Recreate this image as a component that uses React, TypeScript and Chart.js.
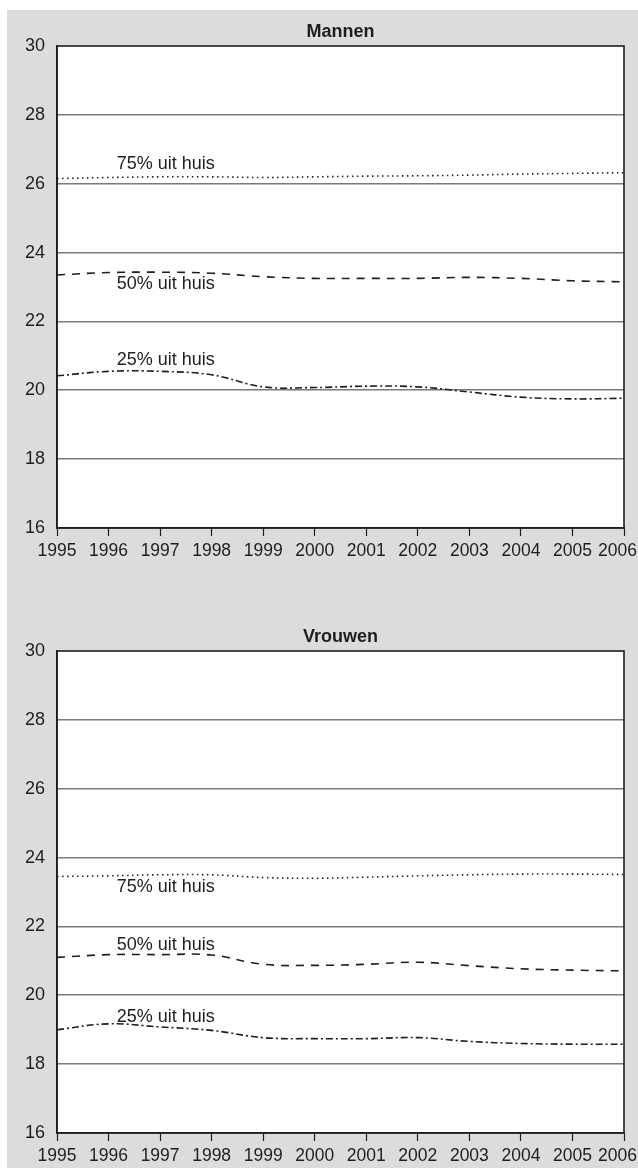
import React, { useEffect, useRef } from "react";
import { Chart, registerables } from "chart.js";

Chart.register(...registerables);

const years = ["1995", "1996", "1997", "1998", "1999", "2000", "2001", "2002", "2003", "2004", "2005", "2006"];

const mannen75 = [26.15, 26.18, 26.2, 26.2, 26.18, 26.2, 26.22, 26.23, 26.25, 26.28, 26.3, 26.32];
const mannen50 = [23.35, 23.42, 23.43, 23.4, 23.3, 23.25, 23.25, 23.25, 23.28, 23.25, 23.18, 23.15];
const mannen25 = [20.42, 20.55, 20.55, 20.45, 20.1, 20.08, 20.12, 20.1, 19.95, 19.8, 19.75, 19.77];

const vrouwen75 = [23.45, 23.47, 23.5, 23.5, 23.42, 23.4, 23.43, 23.47, 23.5, 23.52, 23.52, 23.51];
const vrouwen50 = [21.1, 21.18, 21.18, 21.17, 20.9, 20.87, 20.9, 20.96, 20.86, 20.77, 20.73, 20.71];
const vrouwen25 = [19.0, 19.17, 19.08, 18.98, 18.77, 18.74, 18.74, 18.77, 18.66, 18.6, 18.58, 18.58];

const seriesNames = ["75% uit huis", "50% uit huis", "25% uit huis"];
const yMin = 16;
const yMax = 30;
const yStep = 2;

const FONT = "'Liberation Sans', Arial, Helvetica, sans-serif";
const INK = "#1e1e1e";

type LabelSpec = { text: string; at: number; value: number };

const panelPlugin = {
  id: "panelDecor",
  beforeDraw(chart: any) {
    const { ctx, chartArea } = chart;
    ctx.save();
    ctx.fillStyle = "#ffffff";
    ctx.fillRect(chartArea.left, chartArea.top, chartArea.right - chartArea.left, chartArea.bottom - chartArea.top);
    ctx.restore();
  },
  afterDatasetsDraw(chart: any, _args: any, opts: any) {
    const { ctx, chartArea } = chart;
    const { left, right, top, bottom } = chartArea;
    ctx.save();
    ctx.strokeStyle = INK;
    ctx.lineWidth = 1.6;
    ctx.strokeRect(left, top, right - left, bottom - top);
    ctx.fillStyle = INK;
    ctx.font = `bold 18px ${FONT}`;
    ctx.textAlign = "center";
    ctx.textBaseline = "middle";
    ctx.fillText(opts.title, (left + right) / 2, top - 14);
    // category labels of the x scale, kept inside the canvas
    const xScale = chart.scales.x;
    ctx.font = `17.5px ${FONT}`;
    xScale.ticks.forEach((t: any, i: number) => {
      const label = String(xScale.getLabelForValue(t.value));
      const w = ctx.measureText(label).width;
      let cx = xScale.getPixelForTick(i);
      cx = Math.min(cx, chart.width - 1 - w / 2);
      ctx.fillText(label, cx, bottom + 23);
    });
    // series labels
    ctx.font = `18px ${FONT}`;
    ctx.textAlign = "left";
    const yScale = chart.scales.y;
    (opts.labels as LabelSpec[]).forEach((l) => {
      const x = xScale.getPixelForDecimal(l.at / (years.length - 1));
      const y = yScale.getPixelForValue(l.value);
      ctx.fillText(l.text, x, y);
    });
    ctx.restore();
  },
};

function makeConfig(title: string, s75: number[], s50: number[], s25: number[], labels: LabelSpec[]): any {
  const common = { borderColor: INK, borderWidth: 1.6, pointRadius: 0, tension: 0.4, fill: false, borderCapStyle: "butt" };
  return {
    type: "line",
    data: {
      labels: years,
      datasets: [
        { label: seriesNames[0], data: s75, ...common, borderDash: [1.5, 3.5] },
        { label: seriesNames[1], data: s50, ...common, borderDash: [8, 7] },
        { label: seriesNames[2], data: s25, ...common, borderDash: [7, 3, 2, 3] },
      ],
    },
    options: {
      responsive: false,
      animation: false,
      devicePixelRatio: 1,
      layout: { padding: { top: 36, right: 14, bottom: 0, left: 0 } },
      plugins: {
        legend: { display: false },
        tooltip: { enabled: false },
        title: { display: false },
        panelDecor: { title, labels },
      },
      scales: {
        x: {
          type: "category",
          offset: false,
          afterFit: (s: any) => {
            s.height = 35;
            s.paddingLeft = 0;
            s.paddingRight = 0;
          },
          grid: { drawOnChartArea: false, drawTicks: true, tickLength: 8, tickColor: INK, tickWidth: 1.2 },
          border: { display: true, color: INK, width: 1.6 },
          ticks: { display: false, autoSkip: false, maxRotation: 0 },
        },
        y: {
          min: yMin,
          max: yMax,
          afterFit: (s: any) => {
            s.width = 50;
            s.paddingTop = 0;
            s.paddingBottom = 0;
          },
          grid: {
            drawTicks: false,
            color: (c: any) => (c.tick && (c.tick.value === yMin || c.tick.value === yMax) ? "rgba(0,0,0,0)" : "#7a7a7a"),
            lineWidth: 1.6,
          },
          border: { display: true, color: INK, width: 1.6 },
          ticks: { stepSize: yStep, color: INK, font: { family: FONT, size: 18 }, padding: 12 },
        },
      },
    },
    plugins: [panelPlugin],
  };
}

function Panel(props: { top: number; title: string; s75: number[]; s50: number[]; s25: number[]; labels: LabelSpec[] }) {
  const ref = useRef<HTMLCanvasElement | null>(null);
  useEffect(() => {
    if (!ref.current) return;
    const chart = new Chart(ref.current, makeConfig(props.title, props.s75, props.s50, props.s25, props.labels));
    return () => chart.destroy();
  }, []);
  return (
    <canvas
      ref={ref}
      width={631}
      height={553}
      style={{ position: "absolute", left: 0, top: props.top, width: 631, height: 553, display: "block" }}
    />
  );
}

export default function App() {
  return (
    <div
      style={{
        position: "absolute",
        left: 7,
        top: 10,
        width: 631,
        height: 1158,
        background: "#dcdcdf",
        overflow: "hidden",
      }}
    >
      <Panel
        top={0}
        title="Mannen"
        s75={mannen75}
        s50={mannen50}
        s25={mannen25}
        labels={[
          { text: seriesNames[0], at: 1.16, value: 26.57 },
          { text: seriesNames[1], at: 1.16, value: 23.09 },
          { text: seriesNames[2], at: 1.16, value: 20.88 },
        ]}
      />
      <Panel
        top={605}
        title="Vrouwen"
        s75={vrouwen75}
        s50={vrouwen50}
        s25={vrouwen25}
        labels={[
          { text: seriesNames[0], at: 1.16, value: 23.15 },
          { text: seriesNames[1], at: 1.16, value: 21.46 },
          { text: seriesNames[2], at: 1.16, value: 19.37 },
        ]}
      />
    </div>
  );
}
